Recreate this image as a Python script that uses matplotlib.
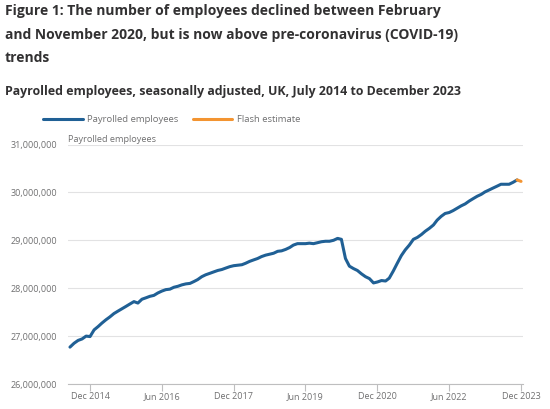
import matplotlib

matplotlib.use('Agg')
import matplotlib.pyplot as plt
import matplotlib.dates as mdates
import numpy as np
import pandas as pd

# monthly payrolled employees (millions), Jul 2014 to Nov 2023
employees = [
    26.77, 26.85, 26.91, 26.94, 27.00, 26.99, 27.13, 27.20, 27.27, 27.34,
    27.40, 27.47, 27.52, 27.57, 27.62, 27.67, 27.72, 27.69, 27.77, 27.80,
    27.83, 27.85, 27.90, 27.94, 27.97, 27.98, 28.02, 28.04, 28.07, 28.09,
    28.10, 28.14, 28.18, 28.24, 28.28, 28.31, 28.34, 28.37, 28.39, 28.42,
    28.45, 28.47, 28.48, 28.49, 28.52, 28.56, 28.59, 28.62, 28.66, 28.69,
    28.71, 28.73, 28.77, 28.78, 28.81, 28.85, 28.90, 28.93, 28.93, 28.93,
    28.94, 28.93, 28.95, 28.97, 28.98, 28.98, 29.00, 29.04, 29.02, 28.62,
    28.46, 28.41, 28.37, 28.30, 28.24, 28.20, 28.11, 28.13, 28.16, 28.15,
    28.21, 28.36, 28.52, 28.68, 28.80, 28.90, 29.02, 29.06, 29.12, 29.19,
    29.25, 29.32, 29.42, 29.50, 29.56, 29.58, 29.62, 29.67, 29.72, 29.76,
    29.82, 29.87, 29.92, 29.96, 30.01, 30.05, 30.09, 30.13, 30.17, 30.17,
    30.17, 30.21, 30.26,
]
flash_value = 30.23  # Dec 2023 flash estimate

months = pd.date_range('2014-07-01', periods=len(employees), freq='MS')
flash_months = [months[-1], pd.Timestamp('2023-12-01')]
flash_values = [employees[-1], flash_value]

y_ticks = [26e6, 27e6, 28e6, 29e6, 30e6, 31e6]
x_ticks = ['2014-12-01', '2016-06-01', '2017-12-01', '2019-06-01',
           '2020-12-01', '2022-06-01', '2023-12-01']

BLUE = '#206095'
ORANGE = '#F39431'
GREY = '#707071'
DARK = '#323132'

plt.rcParams['font.family'] = ['Open Sans', 'DejaVu Sans']

fig = plt.figure(figsize=(5.5, 4.09), dpi=100)
W, H = 550, 409


def fy(py):
    return 1 - py / H


fig.text(5 / W, fy(11), 'Figure 1: The number of employees declined between February',
         fontsize=10.0, fontweight='bold', color=DARK, va='center')
fig.text(5 / W, fy(35), 'and November 2020, but is now above pre-coronavirus (COVID-19)',
         fontsize=10.0, fontweight='bold', color=DARK, va='center')
fig.text(5 / W, fy(58), 'trends',
         fontsize=10.0, fontweight='bold', color=DARK, va='center')
fig.text(5 / W, fy(91), 'Payrolled employees, seasonally adjusted, UK, July 2014 to December 2023',
         fontsize=8.9, fontweight='bold', color=DARK, va='center')

# axes: left edge x=68, right x=523, top y=144 (31M), bottom y=384 (26M)
ax = fig.add_axes([68 / W, fy(384), (523 - 68) / W, (384 - 144.5) / H])

ax.plot(months, np.array(employees) * 1e6, color=BLUE, lw=2.2,
        solid_capstyle='round', label='Payrolled employees', zorder=3)
ax.plot(flash_months, np.array(flash_values) * 1e6, color=ORANGE, lw=2.2,
        solid_capstyle='round', label='Flash estimate', zorder=3)

x0 = pd.Timestamp('2014-06-16')
x1 = pd.Timestamp('2023-12-16')
ax.set_xlim(x0, x1)
ax.set_ylim(26e6, 31e6)
ax.set_yticks(y_ticks)
ax.set_yticklabels(['{:,.0f}'.format(v) for v in y_ticks])
ax.set_xticks(pd.to_datetime(x_ticks))
ax.xaxis.set_major_formatter(mdates.DateFormatter('%b %Y'))

ax.grid(axis='y', color='#e2e2e3', lw=0.8)
ax.set_axisbelow(True)
for side in ['top', 'right', 'left']:
    ax.spines[side].set_visible(False)
ax.spines['bottom'].set_color('#bebebf')
ax.spines['bottom'].set_linewidth(0.8)
ax.tick_params(axis='y', length=0, labelsize=6.5, labelcolor=GREY, pad=8)
ax.tick_params(axis='x', length=5, width=0.8, color='#bebebf',
               labelsize=6.5, labelcolor=GREY, pad=1)

fig.text(68 / W, fy(139), 'Payrolled employees', fontsize=6.6, color=GREY, va='center')

fig.legend(loc='center left', bbox_to_anchor=(43 / W, fy(120)), ncol=2,
           frameon=False, fontsize=6.8, handlelength=4.2, columnspacing=1.5,
           handletextpad=0.5, labelcolor=GREY, borderaxespad=0, borderpad=0)

fig.savefig('out.png', dpi=100)
